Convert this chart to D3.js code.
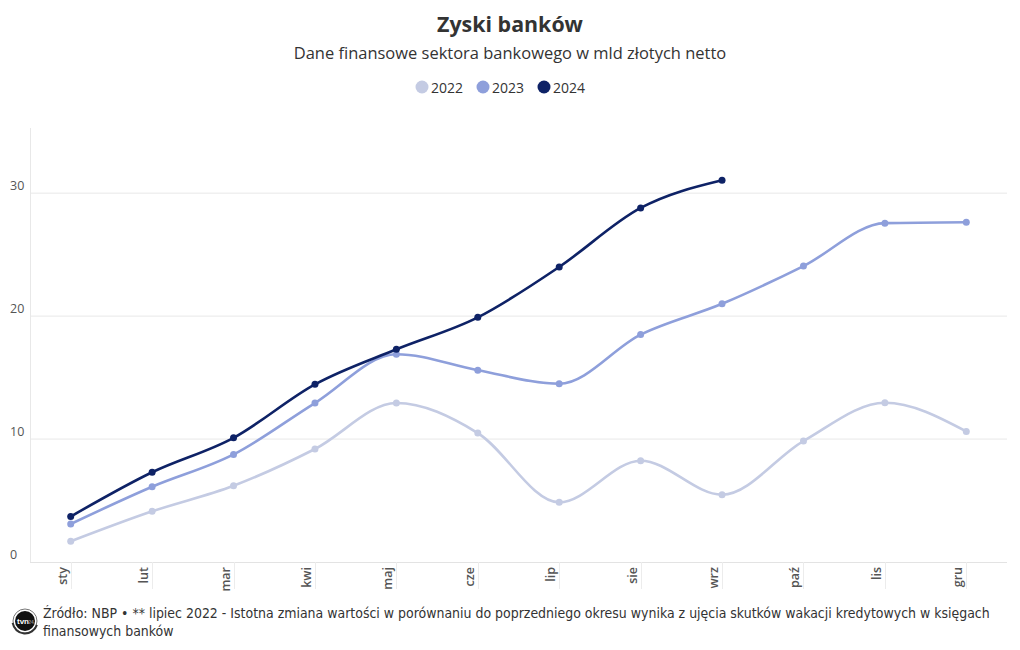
<!DOCTYPE html>
<html><head><meta charset="utf-8">
<script src="https://cdn.jsdelivr.net/npm/d3@7"></script>
<style>
body{margin:0;background:#fff;}
svg{display:block;font-family:"Open Sans","Noto Sans",sans-serif;}
</style></head>
<body><svg id="c" width="1020" height="650"></svg>
<script>
const months = ["sty","lut","mar","kwi","maj","cze","lip","sie","wrz","paź","lis","gru"];
const seriesNames = ["2022","2023","2024"];
const v2022 = [1.68,4.12,6.2,9.19,12.93,10.49,4.85,8.24,5.47,9.84,12.95,10.62];
const v2023 = [3.09,6.12,8.75,12.93,16.9,15.6,14.5,18.5,21.0,24.07,27.56,27.64];
const v2024 = [3.7,7.3,10.1,14.45,17.3,19.9,24.0,28.8,31.05];
const yTicks = [0,10,20,30];
const colors = ["#c4cbe3","#8e9fdb","#0e2266"];

const svg = d3.select("#c");
const L = 30, R = 1007, T = 128, B = 562;
const x = d3.scaleBand().domain(months).range([L,R]).padding(0);
const y = d3.scaleLinear().domain([0,35.3]).range([B,T]);

function fit(sel, target){
  const w = sel.node().getComputedTextLength();
  const fs = +sel.attr("font-size");
  if (w>0) sel.attr("font-size", fs*target/w);
}

// title
const tt = svg.append("text").attr("x",510).attr("y",32).attr("text-anchor","middle")
  .attr("font-size",22).attr("font-weight",700).attr("fill","#333").text("Zyski banków");
fit(tt,146);
const st = svg.append("text").attr("x",510).attr("y",59).attr("text-anchor","middle")
  .attr("font-size",16).attr("fill","#333").text("Dane finansowe sektora bankowego w mld złotych netto");
fit(st,433);

// legend
const legX = [422,483,544];
seriesNames.forEach((n,i)=>{
  svg.append("circle").attr("cx",legX[i]).attr("cy",87).attr("r",6.5).attr("fill",colors[i]);
  svg.append("text").attr("x",legX[i]+9).attr("y",92.5).attr("font-size",14).attr("fill","#333").text(n);
});

// grid
const g = svg.append("g");
g.selectAll("line.h").data(yTicks.filter(d=>d>0)).join("line")
  .attr("x1",L).attr("x2",R).attr("y1",d=>y(d)).attr("y2",d=>y(d))
  .attr("stroke","#e8e8e8").attr("stroke-width",1);
g.append("line").attr("x1",L+0.5).attr("x2",L+0.5).attr("y1",T).attr("y2",B).attr("stroke","#e8e8e8");
g.append("line").attr("x1",L).attr("x2",R).attr("y1",B+0.5).attr("y2",B+0.5).attr("stroke","#e3e3e3");
g.selectAll("text.yl").data(yTicks).join("text")
  .attr("x",10).attr("y",d=>y(d)-3).attr("font-size",12.5).attr("fill","#555").text(d=>d);

// x axis ticks
const xc = m => x(m)+x.bandwidth()/2;
g.selectAll("line.xt").data(months).join("line")
  .attr("x1",d=>Math.round(xc(d))+0.5).attr("x2",d=>Math.round(xc(d))+0.5)
  .attr("y1",B).attr("y2",589).attr("stroke","#ececec");
g.selectAll("text.xl").data(months).join("text")
  .attr("transform",d=>`translate(${xc(d)-4},567) rotate(-90)`)
  .attr("text-anchor","end").attr("font-size",12.5).attr("font-weight",600).attr("fill","#555").text(d=>d);

// lines
const all = [v2022,v2023,v2024];
const line = d3.line().x((d,i)=>xc(months[i])).y(d=>y(d)).curve(d3.curveMonotoneX);
all.forEach((vals,k)=>{
  svg.append("path").attr("d",line(vals)).attr("fill","none")
    .attr("stroke",colors[k]).attr("stroke-width",2.6);
  svg.selectAll(null).data(vals).join("circle")
    .attr("cx",(d,i)=>xc(months[i])).attr("cy",d=>y(d)).attr("r",3.5).attr("fill",colors[k]);
});

// footer logo
const lg = svg.append("g").attr("transform","translate(25,621)");
lg.append("circle").attr("r",12).attr("fill","none").attr("stroke","#777").attr("stroke-width",1);
lg.append("circle").attr("r",10).attr("fill","#111");
lg.append("path").attr("d",d3.arc()({innerRadius:11.5,outerRadius:13.5,startAngle:Math.PI*0.6,endAngle:Math.PI*1.45})).attr("fill","#333");
lg.append("text").attr("x",-2).attr("y",3).attr("text-anchor","middle").attr("font-size",8).attr("font-weight",700)
  .attr("fill","#fff").attr("font-family","Arial,sans-serif").text("tvn");
lg.append("text").attr("x",6).attr("y",2.5).attr("text-anchor","middle").attr("font-size",5).attr("font-weight",700)
  .attr("fill","#888").attr("font-family","Arial,sans-serif").text("24");
const ft = svg.append("text").attr("font-size",14).attr("fill","#333")
  .attr("font-family","'Liberation Sans Narrow','DejaVu Sans Condensed','Roboto Condensed',sans-serif")
  .style("font-stretch","condensed");
const t1 = ft.append("tspan").attr("x",43).attr("y",618)
  .text("Źródło: NBP • ** lipiec 2022 - Istotna zmiana wartości w porównaniu do poprzedniego okresu wynika z ujęcia skutków wakacji kredytowych w księgach");
ft.append("tspan").attr("x",43).attr("y",636).text("finansowych banków");
const w = t1.node().getComputedTextLength();
if (w>0) ft.attr("font-size",14*947/w);
</script></body></html>
